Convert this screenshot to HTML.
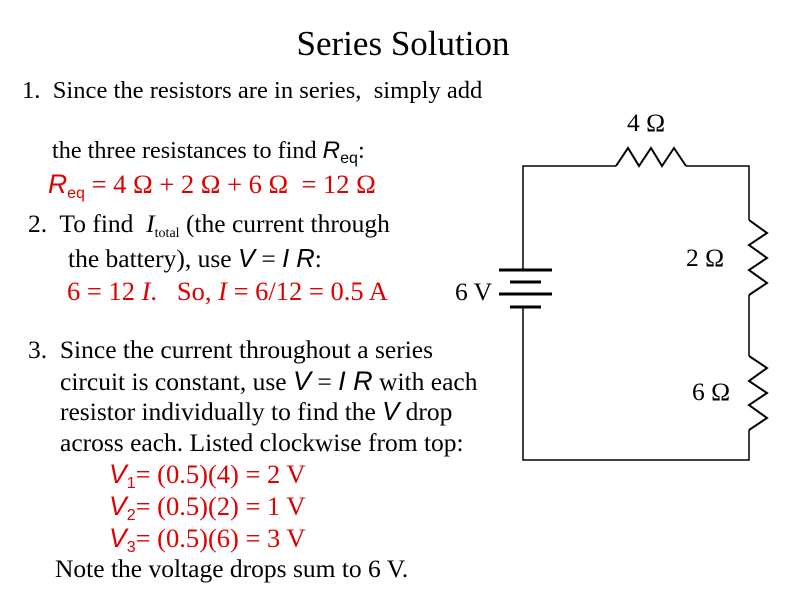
<!DOCTYPE html>
<html><head><meta charset="utf-8"><style>
body{margin:0;width:800px;height:600px;background:#fff;position:relative;overflow:hidden;font-family:"Liberation Serif",serif;color:#000}
.l{position:absolute;white-space:nowrap;font-size:25.5px;line-height:26px}
.r{color:#e00000;font-size:26.5px}
.s{font-family:"Liberation Sans",sans-serif;font-style:italic}
sub{font-family:"Liberation Sans",sans-serif;font-style:normal;font-size:16px;vertical-align:-5px;line-height:0}
</style></head><body>
<div class="l" style="left:0;width:806px;text-align:center;top:26px;font-size:35px;line-height:36px">Series Solution</div>
<div class="l" style="left:22px;top:78px;font-size:24.6px">1.&nbsp; Since the resistors are in series,&nbsp; simply add</div>
<div class="l" style="left:52px;top:138px;font-size:24.2px">the three resistances to find <span class="s">R</span><sub>eq</sub>:</div>
<div class="l r" style="left:48px;top:171px"><span class="s">R</span><sub>eq</sub> = 4 Ω + 2 Ω + 6 Ω&nbsp; = 12 Ω</div>
<div class="l" style="left:28px;top:211px">2.&nbsp; To find&nbsp; <i>I</i><sub style="font-family:'Liberation Serif',serif;font-size:14px">total</sub> (the current through</div>
<div class="l" style="left:68px;top:246px">the battery), use <span class="s">V</span> = <span class="s">I R</span>:</div>
<div class="l r" style="left:67px;top:278px">6 = 12 <i>I</i>.&nbsp;&nbsp; So, <i>I</i> = 6/12 = 0.5 A</div>
<div class="l" style="left:28px;top:337px">3.&nbsp; Since the current throughout a series</div>
<div class="l" style="left:60px;top:368px">circuit is constant, use <span class="s" style="font-size:27px">V</span> = <span class="s" style="font-size:27px">I R</span> with each</div>
<div class="l" style="left:60px;top:399px">resistor individually to find the <span class="s">V</span> drop</div>
<div class="l" style="left:60px;top:430px">across each. Listed clockwise from top:</div>
<div class="l r" style="left:109px;top:461px"><span class="s">V</span><sub>1</sub>= (0.5)(4) = 2 V</div>
<div class="l r" style="left:109px;top:493px"><span class="s">V</span><sub>2</sub>= (0.5)(2) = 1 V</div>
<div class="l r" style="left:109px;top:525px"><span class="s">V</span><sub>3</sub>= (0.5)(6) = 3 V</div>
<div class="l" style="left:55px;top:556px">Note the voltage drops sum to 6 V.</div>
<svg width="800" height="600" style="position:absolute;left:0;top:0" fill="none" stroke="#000">
<polyline stroke-width="1.5" points="616,166 523,166 523,270"/>
<polyline stroke-width="1.5" points="523,307 523,460 749,460 749,430"/>
<polyline stroke-width="1.5" points="686,166 749,166 749,220"/>
<polyline stroke-width="1.5" points="749,295 749,356"/>
<polyline stroke-width="2" points="616,166 628,148 639,166 651,148 662,166 674,148 686,166"/>
<polyline stroke-width="2" points="749,220 767,233 749,245 767,258 749,270 767,283 749,295"/>
<polyline stroke-width="2" points="749,356 767,368 749,381 767,393 749,405 767,418 749,430"/>
<g stroke-width="3">
<line x1="499" y1="270" x2="552" y2="270"/><line x1="510" y1="282" x2="541" y2="282"/>
<line x1="499" y1="294" x2="552" y2="294"/><line x1="510" y1="307" x2="541" y2="307"/>
</g>
</svg>
<div class="l" style="left:627px;top:110px">4 Ω</div>
<div class="l" style="left:686px;top:245px">2 Ω</div>
<div class="l" style="left:692px;top:379px">6 Ω</div>
<div class="l" style="left:455px;top:279px">6 V</div>
</body></html>
